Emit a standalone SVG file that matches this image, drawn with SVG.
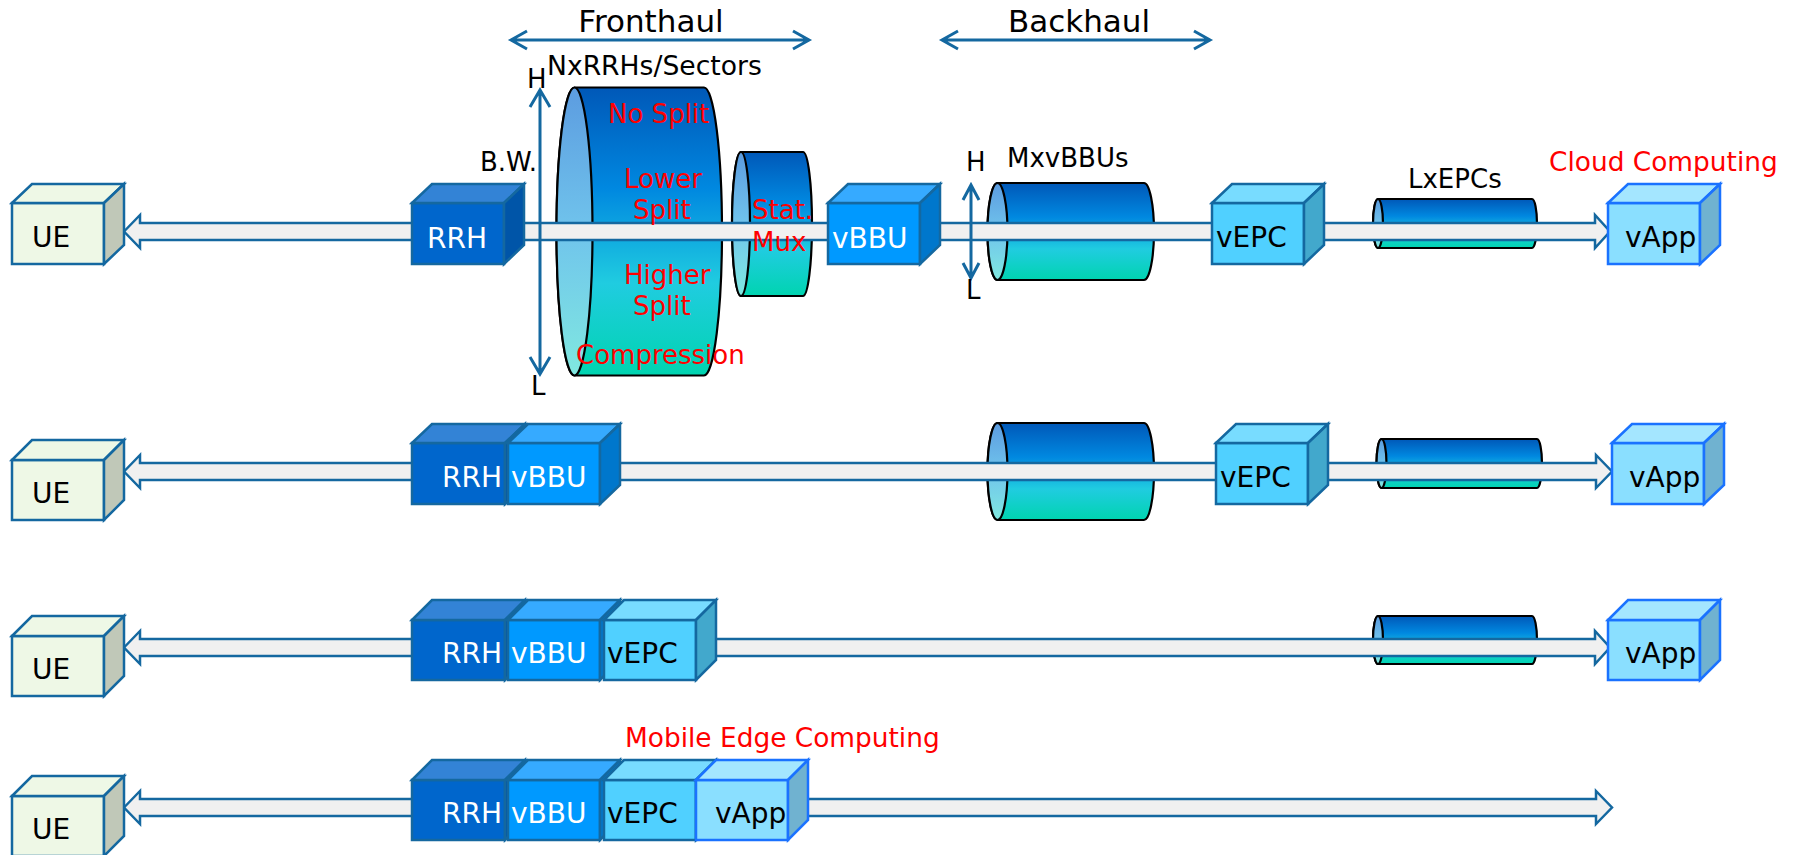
<svg xmlns="http://www.w3.org/2000/svg" width="1795" height="855" viewBox="0 0 1795 855">
<style>
  text { font-family: "DejaVu Sans", Verdana, sans-serif; }
  .t { font-size: 26px; fill: #000; }
  .title { font-size: 31px; fill: #000; text-anchor: middle; }
  .red { font-size: 26px; fill: #ff0000; }
  .lbl { font-size: 28px; }
  .w { fill: #fff; }
  .k { fill: #000; }
  .cs { stroke: #1468a0; stroke-width: 2.5; stroke-linejoin: miter; }
  .cs2 { stroke: #1a72ff; stroke-width: 2.5; }
  .ue-f { fill: #eef8e6; } .ue-r { fill: #c0c8b8; }
  .rrh-f { fill: #0066cc; } .rrh-t { fill: #3383d6; } .rrh-r { fill: #0055a8; }
  .bbu-f { fill: #0099ff; } .bbu-t { fill: #36aaff; } .bbu-r { fill: #0077cc; }
  .epc-f { fill: #50d0ff; } .epc-t { fill: #78dcff; } .epc-r { fill: #42a8cc; }
  .app-f { fill: #8adfff; } .app-t { fill: #a4e6ff; } .app-r { fill: #70b2d0; }
  .cyl { fill: url(#body); stroke: #000; stroke-width: 2.2; }
  .cylf { fill: url(#face); stroke: #000; stroke-width: 2.2; }
  .blk { fill: #f0f0f0; stroke: #1468a0; stroke-width: 2.5; stroke-linejoin: miter; }
  .ln { fill: none; stroke: #1468a0; stroke-width: 3; }
</style>
<defs>
  <linearGradient id="body" x1="0" y1="0" x2="0" y2="1">
    <stop offset="0" stop-color="#0058b8"/>
    <stop offset="0.35" stop-color="#0088e0"/>
    <stop offset="0.68" stop-color="#20cce0"/>
    <stop offset="1" stop-color="#00d4b0"/>
  </linearGradient>
  <linearGradient id="face" x1="0" y1="0" x2="0" y2="1">
    <stop offset="0" stop-color="#5c9ce0"/>
    <stop offset="0.5" stop-color="#70c4ec"/>
    <stop offset="1" stop-color="#80e8e0"/>
  </linearGradient>
</defs>

<!-- cylinders (pools) -->
<g id="pool-rrh">
  <path class="cyl" d="M574.5,87.5 L704,87.5 A18,144 0 0 1 704,375.5 L574.5,375.5 A18,144 0 0 1 574.5,87.5 Z"/>
  <ellipse class="cylf" cx="574.5" cy="231.5" rx="18" ry="144"/>
</g>
<g id="statmux">
  <path class="cyl" d="M741,152 L803,152 A9,72 0 0 1 803,296 L741,296 A9,72 0 0 1 741,152 Z"/>
  <ellipse class="cylf" cx="741" cy="224" rx="9" ry="72"/>
</g>
<g id="pool-bbu-1">
  <path class="cyl" d="M997.5,183 L1144,183 A10,48.5 0 0 1 1144,280 L997.5,280 A10,48.5 0 0 1 997.5,183 Z"/>
  <ellipse class="cylf" cx="997.5" cy="231.5" rx="10" ry="48.5"/>
</g>
<g id="pool-bbu-2">
  <path class="cyl" d="M997.5,423 L1144,423 A10,48.5 0 0 1 1144,520 L997.5,520 A10,48.5 0 0 1 997.5,423 Z"/>
  <ellipse class="cylf" cx="997.5" cy="471.5" rx="10" ry="48.5"/>
</g>
<g id="pool-epc-1">
  <path class="cyl" d="M1378,199 L1532,199 A5,24.5 0 0 1 1532,248 L1378,248 A5,24.5 0 0 1 1378,199 Z"/>
  <ellipse class="cylf" cx="1378" cy="223.5" rx="5" ry="24.5"/>
</g>
<g id="pool-epc-2">
  <path class="cyl" d="M1381.5,439 L1537,439 A5,24.5 0 0 1 1537,488 L1381.5,488 A5,24.5 0 0 1 1381.5,439 Z"/>
  <ellipse class="cylf" cx="1381.5" cy="463.5" rx="5" ry="24.5"/>
</g>
<g id="pool-epc-3">
  <path class="cyl" d="M1378,616 L1532,616 A5,24 0 0 1 1532,664 L1378,664 A5,24 0 0 1 1378,616 Z"/>
  <ellipse class="cylf" cx="1378" cy="640" rx="5" ry="24"/>
</g>

<!-- connectors -->
<g id="connectors">
  <path class="blk" d="M124,231.5 L140,215 L140,223 L1595,223 L1595,215 L1610,231.5 L1595,248 L1595,240 L140,240 L140,248 Z"/>
  <path class="blk" d="M124,471.5 L140,455 L140,463 L1596,463 L1596,455 L1612,471.5 L1596,488 L1596,480 L140,480 L140,488 Z"/>
  <path class="blk" d="M124,647.5 L140,631 L140,639 L1595,639 L1595,631 L1610,647.5 L1595,664 L1595,656 L140,656 L140,664 Z"/>
  <path class="blk" d="M124,807.5 L140,791 L140,799 L1596,799 L1596,791 L1612,807.5 L1596,824 L1596,816 L140,816 L140,824 Z"/>
  <!-- fronthaul / backhaul -->
  <path class="ln" d="M511,40 L809,40 M527,31 L511,40 L527,49 M793,31 L809,40 L793,49"/>
  <path class="ln" d="M942,40 L1210,40 M958,31 L942,40 L958,49 M1194,31 L1210,40 L1194,49"/>
  <!-- bandwidth arrows -->
  <path class="ln" d="M540,90 L540,374 M530,107 L540,90 L550,107 M530,357 L540,374 L550,357"/>
  <path class="ln" d="M971,185 L971,278 M963,200 L971,185 L979,200 M963,263 L971,278 L979,263"/>
</g>

<!-- row 1 cubes -->
<g id="ue-1" class="cs">
  <rect class="ue-f" x="12" y="203" width="92" height="61"/>
  <polygon class="ue-f" points="12,203 32,184 124,184 104,203"/>
  <polygon class="ue-r" points="104,203 124,184 124,245 104,264"/>
  <text class="lbl k" x="32" y="247" stroke="none">UE</text>
</g>
<g id="rrh-1" class="cs">
  <rect class="rrh-f" x="412" y="203" width="92" height="61"/>
  <polygon class="rrh-t" points="412,203 432,184 524,184 504,203"/>
  <polygon class="rrh-r" points="504,203 524,184 524,245 504,264"/>
  <text class="lbl w" x="427" y="248" stroke="none">RRH</text>
</g>
<g id="vbbu-1" class="cs">
  <rect class="bbu-f" x="828" y="203" width="92" height="61"/>
  <polygon class="bbu-t" points="828,203 848,184 940,184 920,203"/>
  <polygon class="bbu-r" points="920,203 940,184 940,245 920,264"/>
  <text class="lbl w" x="832" y="248" stroke="none">vBBU</text>
</g>
<g id="vepc-1" class="cs">
  <rect class="epc-f" x="1212" y="203" width="92" height="61"/>
  <polygon class="epc-t" points="1212,203 1232,184 1324,184 1304,203"/>
  <polygon class="epc-r" points="1304,203 1324,184 1324,245 1304,264"/>
  <text class="lbl k" x="1216" y="247" stroke="none">vEPC</text>
</g>
<g id="vapp-1" class="cs2">
  <rect class="app-f" x="1608" y="203" width="92" height="61"/>
  <polygon class="app-t" points="1608,203 1628,184 1720,184 1700,203"/>
  <polygon class="app-r" points="1700,203 1720,184 1720,245 1700,264"/>
  <text class="lbl k" x="1625" y="247" stroke="none">vApp</text>
</g>

<!-- row 2 cubes -->
<g id="ue-2" class="cs">
  <rect class="ue-f" x="12" y="460" width="92" height="60"/>
  <polygon class="ue-f" points="12,460 32,440 124,440 104,460"/>
  <polygon class="ue-r" points="104,460 124,440 124,500 104,520"/>
  <text class="lbl k" x="32" y="503" stroke="none">UE</text>
</g>
<g id="rrh-2" class="cs">
  <rect class="rrh-f" x="412" y="443" width="93" height="61"/>
  <polygon class="rrh-t" points="412,443 432,424 525,424 505,443"/>
  <polygon class="rrh-r" points="505,443 525,424 525,485 505,504"/>
  <text class="lbl w" x="442" y="487" stroke="none">RRH</text>
</g>
<g id="vbbu-2" class="cs">
  <rect class="bbu-f" x="508" y="443" width="92" height="61"/>
  <polygon class="bbu-t" points="508,443 528,424 620,424 600,443"/>
  <polygon class="bbu-r" points="600,443 620,424 620,485 600,504"/>
  <text class="lbl w" x="511" y="487" stroke="none">vBBU</text>
</g>
<g id="vepc-2" class="cs">
  <rect class="epc-f" x="1216" y="443" width="92" height="61"/>
  <polygon class="epc-t" points="1216,443 1236,424 1328,424 1308,443"/>
  <polygon class="epc-r" points="1308,443 1328,424 1328,485 1308,504"/>
  <text class="lbl k" x="1220" y="487" stroke="none">vEPC</text>
</g>
<g id="vapp-2" class="cs2">
  <rect class="app-f" x="1612" y="443" width="92" height="61"/>
  <polygon class="app-t" points="1612,443 1632,424 1724,424 1704,443"/>
  <polygon class="app-r" points="1704,443 1724,424 1724,485 1704,504"/>
  <text class="lbl k" x="1629" y="487" stroke="none">vApp</text>
</g>

<!-- row 3 cubes -->
<g id="ue-3" class="cs">
  <rect class="ue-f" x="12" y="636" width="92" height="60"/>
  <polygon class="ue-f" points="12,636 32,616 124,616 104,636"/>
  <polygon class="ue-r" points="104,636 124,616 124,676 104,696"/>
  <text class="lbl k" x="32" y="679" stroke="none">UE</text>
</g>
<g id="rrh-3" class="cs">
  <rect class="rrh-f" x="412" y="620" width="93" height="60"/>
  <polygon class="rrh-t" points="412,620 432,600 525,600 505,620"/>
  <polygon class="rrh-r" points="505,620 525,600 525,660 505,680"/>
  <text class="lbl w" x="442" y="663" stroke="none">RRH</text>
</g>
<g id="vbbu-3" class="cs">
  <rect class="bbu-f" x="508" y="620" width="92" height="60"/>
  <polygon class="bbu-t" points="508,620 528,600 620,600 600,620"/>
  <polygon class="bbu-r" points="600,620 620,600 620,660 600,680"/>
  <text class="lbl w" x="511" y="663" stroke="none">vBBU</text>
</g>
<g id="vepc-3" class="cs">
  <rect class="epc-f" x="604" y="620" width="92" height="60"/>
  <polygon class="epc-t" points="604,620 624,600 716,600 696,620"/>
  <polygon class="epc-r" points="696,620 716,600 716,660 696,680"/>
  <text class="lbl k" x="607" y="663" stroke="none">vEPC</text>
</g>
<g id="vapp-3" class="cs2">
  <rect class="app-f" x="1608" y="620" width="92" height="60"/>
  <polygon class="app-t" points="1608,620 1628,600 1720,600 1700,620"/>
  <polygon class="app-r" points="1700,620 1720,600 1720,660 1700,680"/>
  <text class="lbl k" x="1625" y="663" stroke="none">vApp</text>
</g>

<!-- row 4 cubes -->
<g id="ue-4" class="cs">
  <rect class="ue-f" x="12" y="796" width="92" height="60"/>
  <polygon class="ue-f" points="12,796 32,776 124,776 104,796"/>
  <polygon class="ue-r" points="104,796 124,776 124,836 104,856"/>
  <text class="lbl k" x="32" y="839" stroke="none">UE</text>
</g>
<g id="rrh-4" class="cs">
  <rect class="rrh-f" x="412" y="780" width="93" height="60"/>
  <polygon class="rrh-t" points="412,780 432,760 525,760 505,780"/>
  <polygon class="rrh-r" points="505,780 525,760 525,820 505,840"/>
  <text class="lbl w" x="442" y="823" stroke="none">RRH</text>
</g>
<g id="vbbu-4" class="cs">
  <rect class="bbu-f" x="508" y="780" width="92" height="60"/>
  <polygon class="bbu-t" points="508,780 528,760 620,760 600,780"/>
  <polygon class="bbu-r" points="600,780 620,760 620,820 600,840"/>
  <text class="lbl w" x="511" y="823" stroke="none">vBBU</text>
</g>
<g id="vepc-4" class="cs">
  <rect class="epc-f" x="604" y="780" width="92" height="60"/>
  <polygon class="epc-t" points="604,780 624,760 716,760 696,780"/>
  <polygon class="epc-r" points="696,780 716,760 716,820 696,840"/>
  <text class="lbl k" x="607" y="823" stroke="none">vEPC</text>
</g>
<g id="vapp-4" class="cs2">
  <rect class="app-f" x="696" y="780" width="92" height="60"/>
  <polygon class="app-t" points="696,780 716,760 808,760 788,780"/>
  <polygon class="app-r" points="788,780 808,760 808,820 788,840"/>
  <text class="lbl k" x="715" y="823" stroke="none">vApp</text>
</g>

<!-- labels -->
<g id="labels">
  <text class="title" x="651" y="32">Fronthaul</text>
  <text class="title" x="1079" y="32">Backhaul</text>
  <text class="t" x="547" y="75" style="font-size:26.6px">NxRRHs/Sectors</text>
  <text class="t" x="527" y="88">H</text>
  <text class="t" x="480" y="171">B.W.</text>
  <text class="t" x="531" y="395">L</text>
  <text class="red" x="608" y="123">No Split</text>
  <text class="red" x="624" y="188">Lower</text>
  <text class="red" x="633" y="219">Split</text>
  <text class="red" x="624" y="284">Higher</text>
  <text class="red" x="633" y="315">Split</text>
  <text class="red" x="576" y="364">Compression</text>
  <text class="red" x="752" y="219">Stat.</text>
  <text class="red" x="752" y="251">Mux</text>
  <text class="t" x="1007" y="167">MxvBBUs</text>
  <text class="t" x="966" y="171">H</text>
  <text class="t" x="966" y="299">L</text>
  <text class="t" x="1408" y="188">LxEPCs</text>
  <text class="red" x="1549" y="171" style="font-size:26.4px">Cloud Computing</text>
  <text class="red" x="625" y="747" style="font-size:26.4px">Mobile Edge Computing</text>
</g>
</svg>
